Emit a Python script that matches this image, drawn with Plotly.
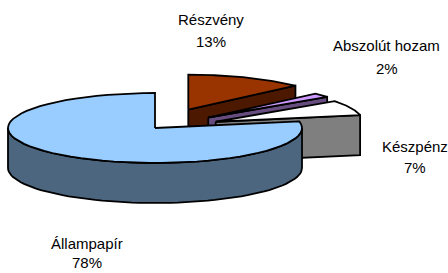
import math
import plotly.graph_objects as go

# ---- data ----
categories = ["Részvény", "Abszolút hozam", "Készpénz", "Állampapír"]
values = [13, 2, 7, 78]
colors = ["#993300", "#CC99FF", "#FFFFFF", "#99CCFF"]
explode = [0.57, 0.47, 0.45, 0.0]

# label anchor positions (pixels) for name / percent lines
label_name_pos = [(211, 19), (386, 45), (415, 146), (87, 243)]
label_pct_pos = [(211, 41), (387, 68), (415, 167), (87, 262)]

# ---- geometry of the 3D pie (pixel space) ----
W, H = 448, 273
CX, CY = 155, 128
RX, RY = 147, 35
DEPTH = 40
START = 90.0


def shade(hexcol, f=0.5):
    h = hexcol.lstrip("#")
    r, g, b = (int(h[i:i + 2], 16) for i in (0, 2, 4))
    return "rgb(%d,%d,%d)" % (r * f, g * f, b * f)


def pt(ox, oy, ang, r=1.0, dz=0.0):
    a = math.radians(ang)
    return ox + r * RX * math.cos(a), oy - r * RY * math.sin(a) + dz


def arc(ox, oy, a0, a1, dz=0.0, n=60):
    pts = []
    for i in range(n + 1):
        a = a0 + (a1 - a0) * i / n
        pts.append(pt(ox, oy, a, 1.0, dz))
    return pts


total = float(sum(values))
slices = []
cum = 0.0
for i, v in enumerate(values):
    hi = START - 360.0 * cum / total
    lo = hi - 360.0 * v / total
    cum += v
    mid = (lo + hi) / 2
    ox = CX + explode[i] * RX * math.cos(math.radians(mid))
    oy = CY - explode[i] * RY * math.sin(math.radians(mid))
    slices.append(dict(i=i, lo=lo, hi=hi, mid=mid, ox=ox, oy=oy))

# back to front
order = sorted(slices, key=lambda s: -math.sin(math.radians(s["mid"])))

fig = go.Figure()


def add_poly(pts, fill):
    xs = [p[0] for p in pts] + [pts[0][0]]
    ys = [p[1] for p in pts] + [pts[0][1]]
    fig.add_trace(go.Scatter(x=xs, y=ys, mode="lines", fill="toself",
                             fillcolor=fill, line=dict(color="black", width=1.8),
                             hoverinfo="skip", showlegend=False))


for s in order:
    i, lo, hi, ox, oy = s["i"], s["lo"], s["hi"], s["ox"], s["oy"]
    side = shade(colors[i])
    # radial walls
    for edge, visible in ((lo, math.cos(math.radians(lo)) > 1e-9),
                          (hi, math.cos(math.radians(hi)) < -1e-9)):
        if visible:
            p_out = pt(ox, oy, edge)
            add_poly([(ox, oy), p_out, (p_out[0], p_out[1] + DEPTH), (ox, oy + DEPTH)], side)
    # outer curved wall (front half: sin < 0)
    for k in range(-2, 3):
        a0 = max(lo, 180 + 360 * k)
        a1 = min(hi, 360 + 360 * k)
        if a1 > a0:
            top = arc(ox, oy, a0, a1)
            bot = arc(ox, oy, a0, a1, DEPTH)[::-1]
            add_poly(top + bot, side)
    # top face
    add_poly([(ox, oy)] + arc(ox, oy, lo, hi), colors[i])

# labels
for i, name in enumerate(categories):
    pct = "%d%%" % round(100 * values[i] / total)
    for txt, (x, y) in ((name, label_name_pos[i]), (pct, label_pct_pos[i])):
        fig.add_annotation(x=x, y=y, text=txt, showarrow=False, xref="x", yref="y",
                           xanchor="center", yanchor="middle",
                           font=dict(family="Liberation Sans, Arial", size=15, color="black"))

fig.update_layout(
    width=W, height=H, margin=dict(l=0, r=0, t=0, b=0),
    paper_bgcolor="white", plot_bgcolor="white",
    xaxis=dict(range=[0, W], visible=False, fixedrange=True),
    yaxis=dict(range=[H, 0], visible=False, fixedrange=True),
    showlegend=False,
)
fig.write_html("out.html", config={"displayModeBar": False},
               post_script="document.body.style.margin='0';document.body.style.overflow='hidden';")
